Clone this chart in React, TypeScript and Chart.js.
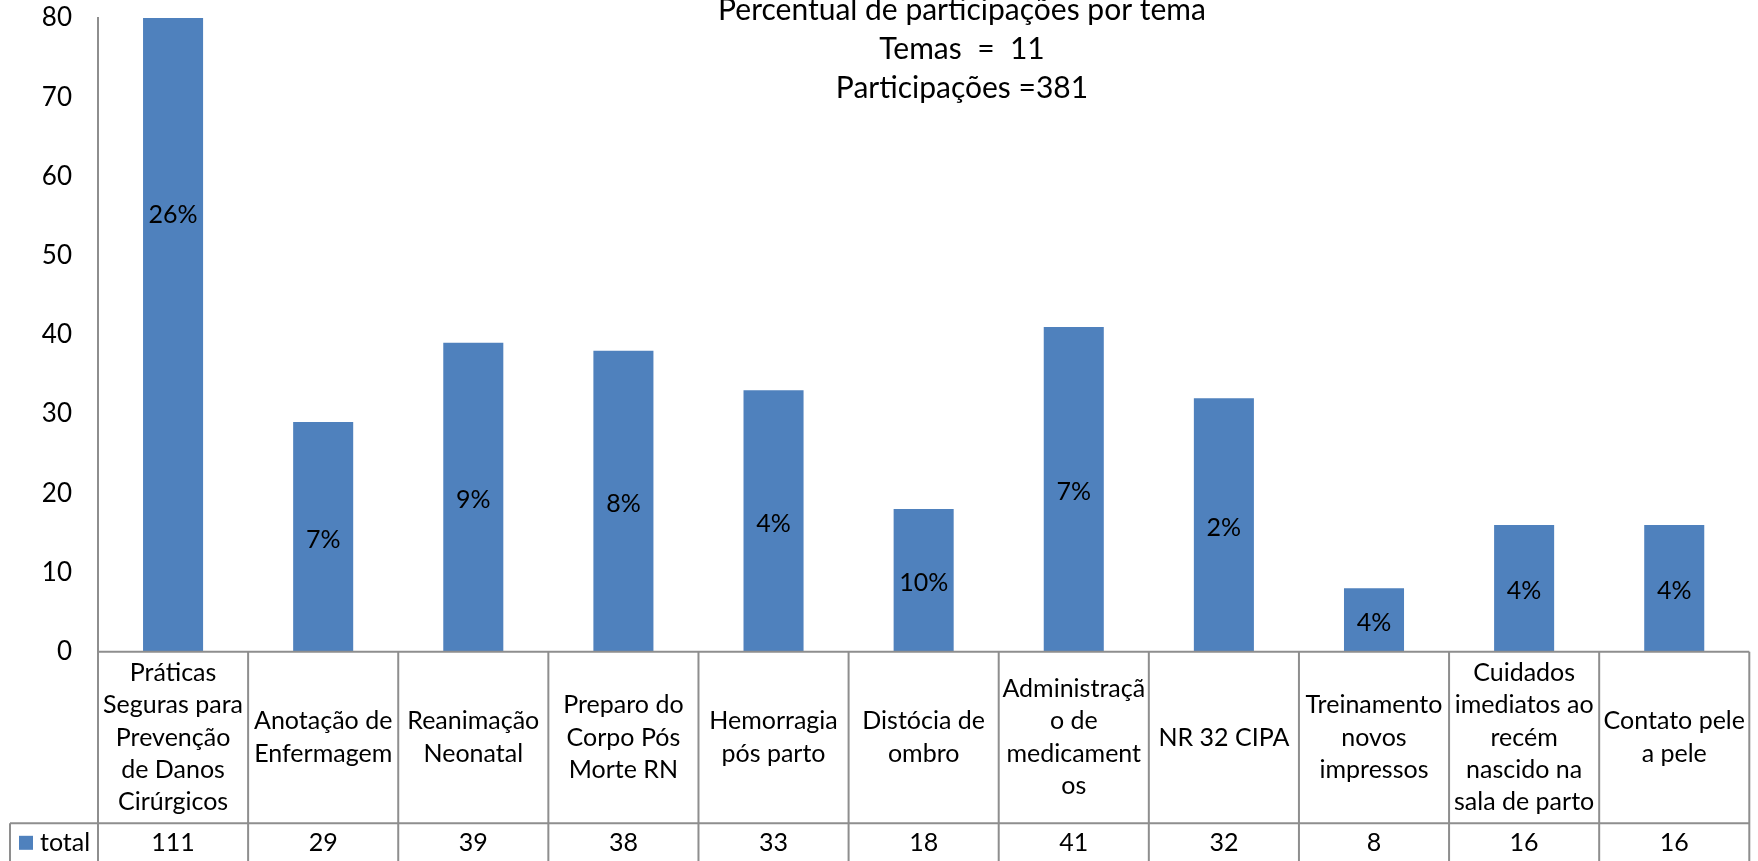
import React, { useEffect, useRef } from "react";
import { Chart, registerables } from "chart.js";

Chart.register(...registerables);

const categories: string[] = [
  "Práticas\nSeguras para\nPrevenção\nde Danos\nCirúrgicos",
  "Anotação de\nEnfermagem",
  "Reanimação\nNeonatal",
  "Preparo do\nCorpo Pós\nMorte RN",
  "Hemorragia\npós parto",
  "Distócia de\nombro",
  "Administraçã\no de\nmedicament\nos",
  "NR 32 CIPA",
  "Treinamento\nnovos\nimpressos",
  "Cuidados\nimediatos ao\nrecém\nnascido na\nsala de parto",
  "Contato pele\na pele",
];
const totals: number[] = [111, 29, 39, 38, 33, 18, 41, 32, 8, 16, 16];
const percentLabels: string[] = ["26%", "7%", "9%", "8%", "4%", "10%", "7%", "2%", "4%", "4%", "4%"];
const seriesName = "total";
const titleLines: string[] = ["Percentual de participações por tema", "Temas  =  11", "Participações =381"];
const yMin = 0;
const yMax = 80;
const yStep = 10;

const FONT = "Lato, 'Open Sans', sans-serif";
const BAR_COLOR = "#4F81BD";
const LINE_COLOR = "#8e8e8e";

const labelPlugin = {
  id: "barLabels",
  afterDatasetsDraw(chart: any) {
    const ctx = chart.ctx;
    const meta = chart.getDatasetMeta(0);
    const y = chart.scales.y;
    ctx.save();
    ctx.font = `25px ${FONT}`;
    ctx.fillStyle = "#000";
    ctx.textAlign = "center";
    ctx.textBaseline = "middle";
    meta.data.forEach((el: any, i: number) => {
      ctx.fillText(percentLabels[i], el.x, y.getPixelForValue(totals[i] / 2) + 3);
    });
    ctx.restore();
  },
};

const tablePlugin = {
  id: "dataTable",
  afterDraw(chart: any) {
    const ctx = chart.ctx;
    const area = chart.chartArea;
    const xs = chart.scales.x;
    const n = categories.length;
    const cw = (area.right - area.left) / n;
    const top = area.bottom;
    const rowDiv = top + 171.6;
    const bottom = rowDiv + 39;
    const legendLeft = 10;
    ctx.save();
    ctx.strokeStyle = LINE_COLOR;
    ctx.lineWidth = 2;
    ctx.beginPath();
    ctx.moveTo(area.left, top);
    ctx.lineTo(area.right, top);
    ctx.moveTo(legendLeft, rowDiv);
    ctx.lineTo(area.right, rowDiv);
    ctx.moveTo(legendLeft, bottom);
    ctx.lineTo(area.right, bottom);
    ctx.moveTo(legendLeft, rowDiv);
    ctx.lineTo(legendLeft, bottom);
    for (let k = 0; k <= n; k++) {
      const xx = area.left + k * cw;
      ctx.moveTo(xx, top);
      ctx.lineTo(xx, bottom);
    }
    ctx.stroke();

    ctx.font = `25px ${FONT}`;
    ctx.fillStyle = "#000";
    ctx.textAlign = "center";
    ctx.textBaseline = "middle";
    const lineH = 32.25;
    const cy = (top + rowDiv) / 2;
    const vy = (rowDiv + bottom) / 2;
    categories.forEach((c, i) => {
      const cx = xs.getPixelForValue(i);
      const lines = c.split("\n");
      const start = cy - ((lines.length - 1) * lineH) / 2;
      lines.forEach((ln, j) => ctx.fillText(ln, cx, start + j * lineH));
      ctx.fillText(String(totals[i]), cx, vy);
    });
    // legend cell
    ctx.fillStyle = BAR_COLOR;
    ctx.fillRect(19, vy - 7, 14, 14);
    ctx.fillStyle = "#000";
    ctx.textAlign = "left";
    ctx.fillText(seriesName, 40, vy);
    ctx.restore();
  },
};

const titlePlugin = {
  id: "overlayTitle",
  afterDraw(chart: any) {
    const ctx = chart.ctx;
    ctx.save();
    ctx.font = `30px ${FONT}`;
    ctx.fillStyle = "#000";
    ctx.textAlign = "center";
    ctx.textBaseline = "alphabetic";
    const baselines = [19.5, 58.5, 97.5];
    titleLines.forEach((t, i) => ctx.fillText(t, 962, baselines[i]));
    ctx.restore();
  },
};

export default function App() {
  const ref = useRef<HTMLCanvasElement | null>(null);
  useEffect(() => {
    if (!ref.current) return;
    const chart = new Chart(ref.current, {
      type: "bar",
      data: {
        labels: categories.map((c) => c.replace(/\n/g, " ")),
        datasets: [
          {
            label: seriesName,
            data: totals,
            backgroundColor: BAR_COLOR,
            categoryPercentage: 1,
            barPercentage: 0.4,
          },
        ],
      },
      options: {
        animation: false,
        responsive: true,
        maintainAspectRatio: false,
        devicePixelRatio: 1,
        layout: { padding: { left: 0, right: 8.7, top: 18, bottom: 209.3 } },
        plugins: {
          legend: { display: false },
          title: { display: false },
          tooltip: { enabled: false },
        },
        scales: {
          x: { display: false },
          y: {
            min: yMin,
            max: yMax,
            ticks: { stepSize: yStep, padding: 26, color: "#000", font: { family: FONT, size: 26 } },
            grid: { display: false, drawTicks: false },
            border: { display: true, color: LINE_COLOR, width: 2 },
            afterFit: (s: any) => {
              s.width = 98;
              s.paddingTop = 0;
              s.paddingBottom = 0;
            },
          },
        },
      },
      plugins: [labelPlugin, tablePlugin, titlePlugin],
    });
    return () => chart.destroy();
  }, []);
  return (
    <div style={{ position: "fixed", left: 0, top: 0, width: 1758, height: 861, background: "#fff" }}>
      <canvas ref={ref} />
    </div>
  );
}
